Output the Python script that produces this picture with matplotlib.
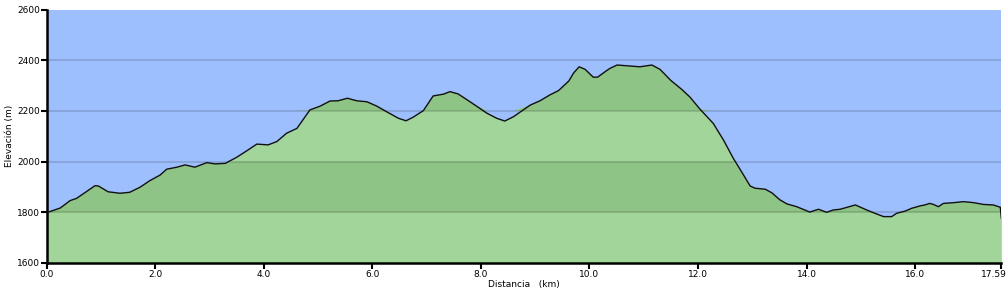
import numpy as np
import matplotlib
matplotlib.use('Agg')
import matplotlib.pyplot as plt
import matplotlib.transforms as mtransforms

# elevation profile (km, m)
dist_km = [0.00, 0.02, 0.25, 0.43, 0.55, 0.89, 0.95, 1.13, 1.35, 1.53, 1.72, 1.90,
           2.09, 2.21, 2.40, 2.55, 2.73, 2.95, 3.10, 3.29, 3.50, 3.71, 3.87, 4.08,
           4.24, 4.42, 4.61, 4.85, 5.04, 5.22, 5.37, 5.54, 5.71, 5.90, 6.08, 6.26,
           6.48, 6.62, 6.75, 6.94, 7.12, 7.31, 7.43, 7.58, 7.80, 8.11, 8.29, 8.44,
           8.60, 8.91, 9.09, 9.27, 9.43, 9.53, 9.62, 9.71, 9.81, 9.92, 10.07, 10.15,
           10.29, 10.38, 10.51, 10.69, 10.93, 11.15, 11.30, 11.50, 11.70, 11.85,
           12.04, 12.28, 12.47, 12.65, 12.84, 12.96, 13.05, 13.24, 13.36, 13.51,
           13.64, 13.82, 14.06, 14.22, 14.37, 14.49, 14.62, 14.90, 15.11, 15.26,
           15.42, 15.57, 15.66, 15.82, 15.94, 16.09, 16.18, 16.27, 16.34, 16.43,
           16.52, 16.71, 16.89, 17.08, 17.26, 17.44, 17.57, 17.59]
elev_m = [1798, 1800, 1817, 1846, 1855, 1905, 1904, 1881, 1875, 1879, 1899, 1925,
          1947, 1970, 1978, 1987, 1978, 1996, 1991, 1993, 2017, 2046, 2069, 2066,
          2079, 2112, 2131, 2204, 2219, 2239, 2240, 2250, 2240, 2236, 2219, 2197,
          2171, 2161, 2175, 2201, 2259, 2266, 2276, 2267, 2236, 2191, 2171, 2160,
          2177, 2223, 2240, 2263, 2280, 2300, 2318, 2350, 2374, 2364, 2333, 2333,
          2355, 2368, 2381, 2378, 2374, 2381, 2364, 2320, 2285, 2255,
          2206, 2151, 2085, 2013, 1947, 1904, 1895, 1891, 1877, 1849,
          1833, 1822, 1801, 1812, 1800, 1809, 1812, 1829, 1809, 1796,
          1783, 1783, 1796, 1805, 1816, 1825, 1829, 1835, 1831, 1822,
          1835, 1838, 1842, 1838, 1831, 1829, 1820, 1776]

x_ticks = [0.0, 2.0, 4.0, 6.0, 8.0, 10.0, 12.0, 14.0, 16.0, 17.59]
x_labels = ['0.0', '2.0', '4.0', '6.0', '8.0', '10.0', '12.0', '14.0', '16.0', '17.59']
y_ticks = [1600, 1800, 2000, 2200, 2400, 2600]
dark_bands = [(1800, 2000), (2200, 2400)]

x = np.array(dist_km)
y = np.array(elev_m)

fig = plt.figure(figsize=(10.07, 2.96), dpi=100)
ax = fig.add_axes([0.0464, 0.1115, 0.948, 0.8564])
ax.set_facecolor('#9dbffd')

ax.fill_between(x, 1600, y, color='#a2d59a', lw=0, zorder=1)
for lo, hi in dark_bands:
    ax.fill_between(x, lo, np.clip(y, lo, hi), where=y > lo, color='#8ec485',
                    lw=0, interpolate=True, zorder=1)

for g in y_ticks[1:-1]:
    ax.axhline(g, color='black', alpha=0.13, lw=1.5, zorder=2)

ax.plot(x, y, color='#111111', lw=1.0, zorder=3)

ax.set_xlim(0, 17.59)
ax.set_ylim(1600, 2600)
ax.set_xticks(x_ticks)
ax.set_xticklabels(x_labels)
ax.set_yticks(y_ticks)
ax.tick_params(labelsize=6.5, length=4, width=1.5, pad=1, colors='black')

# last label sits a bit left of its tick so it stays inside the figure
last = ax.get_xticklabels()[-1]
last.set_horizontalalignment('right')
last.set_transform(last.get_transform() +
                   mtransforms.ScaledTranslation(4 / 72, 0, fig.dpi_scale_trans))

for s in ['top', 'right']:
    ax.spines[s].set_visible(False)
for s in ['left', 'bottom']:
    ax.spines[s].set_linewidth(1.8)

ax.set_xlabel('Distancia   (km)', fontsize=6.5, labelpad=1)
ax.set_ylabel('Elevación (m)', fontsize=6.5, labelpad=2)

fig.savefig('out.png', dpi=100)
